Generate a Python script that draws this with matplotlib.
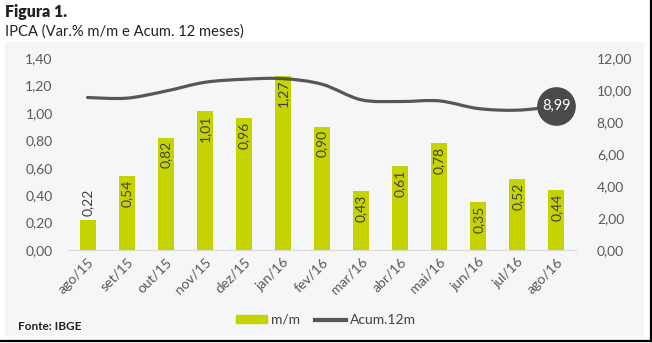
import numpy as np
import matplotlib.pyplot as plt
from matplotlib.path import Path
from matplotlib.patches import PathPatch, Rectangle
from matplotlib.lines import Line2D

plt.rcParams['font.family'] = ['Lato', 'DejaVu Sans']

meses = ['ago/15', 'set/15', 'out/15', 'nov/15', 'dez/15', 'jan/16', 'fev/16',
         'mar/16', 'abr/16', 'mai/16', 'jun/16', 'jul/16', 'ago/16']
mm = [0.22, 0.54, 0.82, 1.01, 0.96, 1.27, 0.90, 0.43, 0.61, 0.78, 0.35, 0.52, 0.44]
acum12 = [9.53, 9.49, 9.93, 10.48, 10.67, 10.71, 10.36, 9.39, 9.28, 9.32, 8.84, 8.74, 8.99]

verde = '#c5d400'
cinza_linha = '#575757'
cinza_txt = '#595959'

fig = plt.figure(figsize=(6.52, 3.43), dpi=100)
W, H = 652, 343

# fundo cinza da area do grafico e bordas pretas
fig.patches.append(Rectangle((5 / W, 1 - 336 / H), 638 / W, 294 / H,
                             transform=fig.transFigure, color='#f5f6f8', zorder=-5))
fig.add_artist(Line2D([650.5 / W, 650.5 / W], [1 - 341 / H, 1], color='k', lw=1.6,
                      transform=fig.transFigure))
fig.add_artist(Line2D([0, 651 / W], [1 - 341 / H, 1 - 341 / H], color='k', lw=1.6,
                      transform=fig.transFigure))

fig.text(5 / W, 1 - 12 / H, 'Figura 1.', fontsize=11.5, fontweight='heavy', va='center', color='#222222')
fig.text(5 / W, 1 - 32 / H, 'IPCA (Var.% m/m e Acum. 12 meses)', fontsize=10.6, va='center', color='#222222')
fig.text(18 / W, 1 - 326 / H, 'Fonte: IBGE', fontsize=8.5, fontweight='bold', va='center', color='#222222')

ax = fig.add_axes([68 / W, 1 - 250 / H, 508 / W, 192 / H])
ax.patch.set_alpha(0)
x = np.arange(len(meses))
ax.bar(x, mm, width=0.41, color=verde, zorder=2)
ax.set_xlim(-0.5, len(meses) - 0.5)
ax.set_ylim(0, 1.4)
ax.set_yticks(np.arange(0, 1.41, 0.2))
ax.set_yticklabels([f'{v:.2f}'.replace('.', ',') for v in np.arange(0, 1.41, 0.2)])
ax.set_xticks(x)
ax.set_xticklabels(meses, rotation=45, ha='right', rotation_mode='anchor')
for s in ['top', 'right', 'left']:
    ax.spines[s].set_visible(False)
ax.spines['bottom'].set_color('#d9d9d9')
ax.tick_params(length=0, labelsize=10, colors=cinza_txt)
ax.tick_params(axis='y', pad=11)
ax.tick_params(axis='x', pad=4)

for xi, v in zip(x, mm):
    txt = f'{v:.2f}'.replace('.', ',')
    if v >= 0.3:
        ax.annotate(txt, (xi, v), xytext=(0, -2.5), textcoords='offset points',
                    rotation=90, ha='center', va='top', fontsize=10, color='#404040', zorder=3)
    else:
        ax.annotate(txt, (xi, v), xytext=(0, 3), textcoords='offset points',
                    rotation=90, ha='center', va='bottom', fontsize=10, color='#404040', zorder=3)

ax2 = ax.twinx()
ax2.patch.set_alpha(0)
ax2.set_ylim(0, 12)
ax2.set_yticks(np.arange(0, 12.1, 2))
ax2.set_yticklabels([f'{v:.2f}'.replace('.', ',') for v in np.arange(0, 12.1, 2)])
for s in ax2.spines.values():
    s.set_visible(False)
ax2.tick_params(length=0, labelsize=10, colors=cinza_txt, pad=15)

# linha suavizada (bezier cubica tipo catmull-rom)
pts = np.column_stack([x, acum12])
verts = [tuple(pts[0])]
codes = [Path.MOVETO]
for i in range(len(pts) - 1):
    p0 = pts[max(i - 1, 0)]
    p1 = pts[i]
    p2 = pts[i + 1]
    p3 = pts[min(i + 2, len(pts) - 1)]
    c1 = p1 + (p2 - p0) / 6
    c2 = p2 - (p3 - p1) / 6
    verts += [tuple(c1), tuple(c2), tuple(p2)]
    codes += [Path.CURVE4] * 3
ax2.add_patch(PathPatch(Path(verts, codes), fill=False, edgecolor=cinza_linha, lw=2.3,
                        capstyle='round', zorder=4))

ax2.scatter([x[-1]], [acum12[-1]], s=720, color='#4a4a4a', zorder=5)
ax2.text(x[-1], acum12[-1], f'{acum12[-1]:.2f}'.replace('.', ','), color='white',
         ha='center', va='center', fontsize=10.5, zorder=6)

handles = [Rectangle((0, 0), 1, 1, color=verde),
           Line2D([0], [0], color=cinza_linha, lw=3)]
fig.legend(handles, ['m/m', 'Acum.12m'], loc='center', bbox_to_anchor=(326 / W, 1 - 320 / H),
           ncol=2, frameon=False, fontsize=10, handlelength=2.2, handleheight=0.45,
           columnspacing=1.1, handletextpad=0.3, labelcolor='#404040')

fig.savefig('out.png', dpi=100)
